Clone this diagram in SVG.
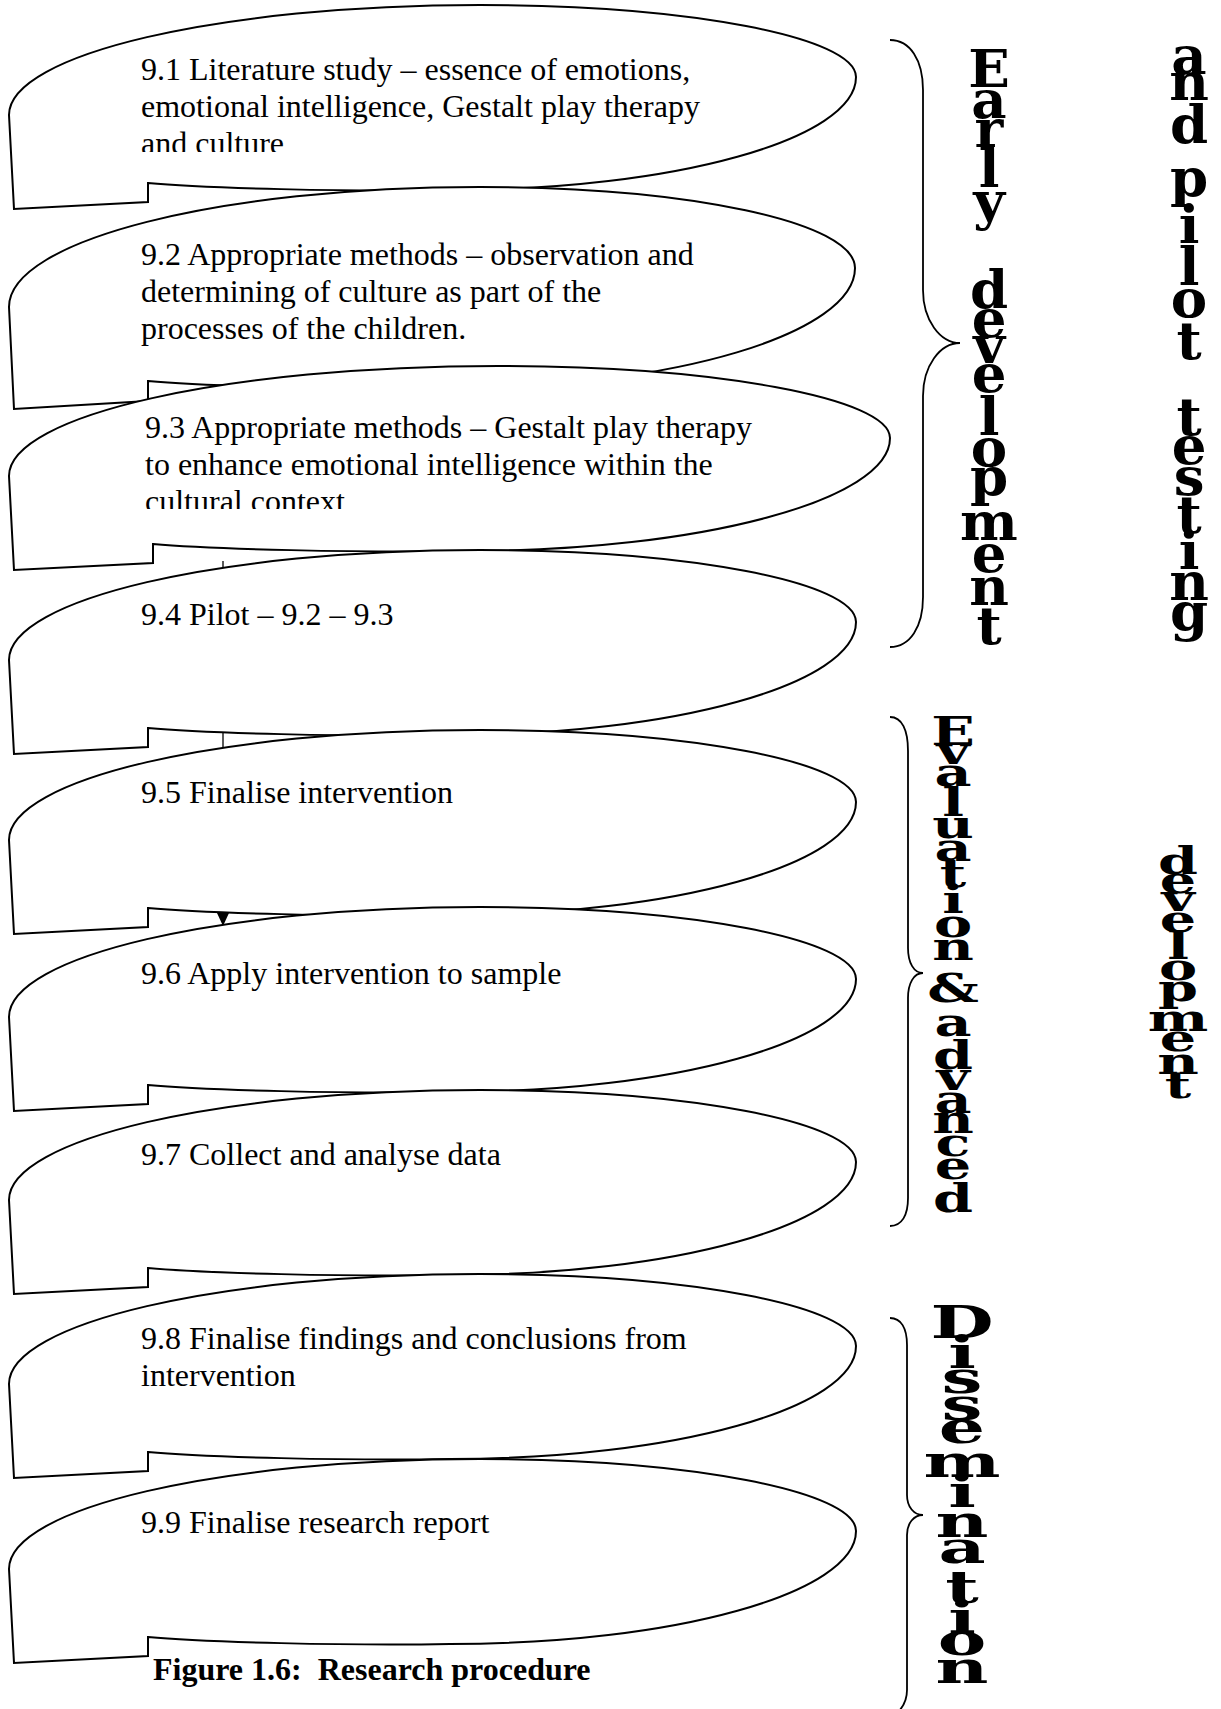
<svg xmlns="http://www.w3.org/2000/svg" xmlns:xlink="http://www.w3.org/1999/xlink" width="1221" height="1709" viewBox="0 0 1221 1709">
<style>
.shape{fill:#fff;stroke:#000;stroke-width:2;stroke-linejoin:miter}
.t{font-family:"Liberation Serif","Times New Roman",serif;font-size:32px;fill:#000}
.cap{font-family:"Liberation Serif","Times New Roman",serif;font-size:32px;font-weight:bold;fill:#000}
.brace{fill:none;stroke:#000;stroke-width:1.8}
.v{font-family:"DejaVu Serif",serif;font-weight:bold;font-size:52px;text-anchor:middle;fill:#000}
.conn{stroke:#000;stroke-width:1.3;fill:none}
</style>
<defs>
<path id="callout" d="M 9,110 C 9,49 220,0 480,0 C 688,0 856,32 856,72 C 856,134 675,185 450,185 C 350,187 200,183 148,178 L 148,197 L 14,204 Z"/>
<clipPath id="clip1"><rect x="0" y="0" width="900" height="152"/></clipPath>
<clipPath id="clip3"><rect x="0" y="366" width="900" height="143"/></clipPath>
</defs>
<rect width="1221" height="1709" fill="#fff"/>

<g id="node-9-1">
<use href="#callout" xlink:href="#callout" y="5" class="shape"/>
<g clip-path="url(#clip1)">
<text class="t" x="141" y="80">9.1 Literature study – essence of emotions,</text>
<text class="t" x="141" y="116.8">emotional intelligence, Gestalt play therapy</text>
<text class="t" x="141" y="153.6">and culture</text>
</g>
</g>

<g id="node-9-2">
<path class="shape" d="M 9,307 C 9,240 220,187 480,187 C 688,187 855,222 855,268 C 855,333 675,388 450,388 C 350,390 200,386 148,381 L 148,401 L 14,409 Z"/>
<text class="t" x="141" y="265">9.2 Appropriate methods – observation and</text>
<text class="t" x="141" y="301.8">determining of culture as part of the</text>
<text class="t" x="141" y="338.6">processes of the children.</text>
</g>

<g id="node-9-3">
<path class="shape" d="M 9,476 C 9,415 228,366 498,366 C 714,366 890,398 890,438 C 890,500 701,551 467,551 C 363,553 207,549 153,544 L 153,563 L 14,570 Z"/>
<g clip-path="url(#clip3)">
<text class="t" x="145" y="438">9.3 Appropriate methods – Gestalt play therapy</text>
<text class="t" x="145" y="474.8">to enhance emotional intelligence within the</text>
<text class="t" x="145" y="511.6">cultural context</text>
</g>
</g>

<g id="connectors">
<line class="conn" x1="223" y1="561" x2="223" y2="914"/>
<polygon points="217,913 229,913 223,926" fill="#000"/>
</g>

<g id="node-9-4">
<use href="#callout" xlink:href="#callout" y="550" class="shape"/>
<text class="t" x="141" y="625">9.4 Pilot – 9.2 – 9.3</text>
</g>
<g id="node-9-5">
<use href="#callout" xlink:href="#callout" y="730" class="shape"/>
<text class="t" x="141" y="803">9.5 Finalise intervention</text>
</g>
<g id="node-9-6">
<use href="#callout" xlink:href="#callout" y="907" class="shape"/>
<text class="t" x="141" y="984">9.6 Apply intervention to sample</text>
</g>
<g id="node-9-7">
<use href="#callout" xlink:href="#callout" y="1090" class="shape"/>
<text class="t" x="141" y="1165">9.7 Collect and analyse data</text>
</g>
<g id="node-9-8">
<use href="#callout" xlink:href="#callout" y="1274" class="shape"/>
<text class="t" x="141" y="1349">9.8 Finalise findings and conclusions from</text>
<text class="t" x="141" y="1385.8">intervention</text>
</g>
<g id="node-9-9">
<use href="#callout" xlink:href="#callout" y="1459" class="shape"/>
<text class="t" x="141" y="1533">9.9 Finalise research report</text>
</g>

<g id="caption">
<text class="cap" x="153" y="1680" xml:space="preserve">Figure 1.6:  Research procedure</text>
</g>

<g id="braces">
<path class="brace" d="M 890,40 C 910,40 923,60 923,90 L 923,290 C 923,320 940,343 960,343 C 940,343 923,366 923,396 L 923,597 C 923,627 910,647 890,647"/>
<path class="brace" d="M 890,717 C 902,717 908,730 908,751 L 908,948 C 908,963 914,973 923,973 C 914,973 908,983 908,998 L 908,1198 C 908,1215 902,1226 890,1226"/>
<path class="brace" d="M 890,1318 C 901,1318 907,1328 907,1345 L 907,1495 C 907,1507 914,1515 923,1515 C 914,1515 907,1523 907,1535 L 907,1690 C 907,1700 904,1706 898,1712"/>
</g>

<g id="label-early-development">
<text class="v" transform="translate(989,0) scale(1.05,1)"><tspan x="0" y="87">E</tspan><tspan x="0" y="118">a</tspan><tspan x="0" y="147">r</tspan><tspan x="0" y="187">l</tspan><tspan x="0" y="219">y</tspan><tspan x="0" y="308">d</tspan><tspan x="0" y="337">e</tspan><tspan x="0" y="363">v</tspan><tspan x="0" y="392">e</tspan><tspan x="0" y="435">l</tspan><tspan x="0" y="466">o</tspan><tspan x="0" y="495">p</tspan><tspan x="0" y="540">m</tspan><tspan x="0" y="572">e</tspan><tspan x="0" y="605">n</tspan><tspan x="0" y="644">t</tspan></text>
</g>

<g id="label-and-pilot-testing">
<text class="v" transform="translate(1189,0) scale(1.05,1)"><tspan x="0" y="74">a</tspan><tspan x="0" y="100">n</tspan><tspan x="0" y="143">d</tspan><tspan x="0" y="196">p</tspan><tspan x="0" y="243">i</tspan><tspan x="0" y="285">l</tspan><tspan x="0" y="317">o</tspan><tspan x="0" y="359">t</tspan><tspan x="0" y="435">t</tspan><tspan x="0" y="464">e</tspan><tspan x="0" y="495">s</tspan><tspan x="0" y="533">t</tspan><tspan x="0" y="569">i</tspan><tspan x="0" y="600">n</tspan><tspan x="0" y="630">g</tspan></text>
</g>

<g id="label-evaluation-advanced">
<text class="v" transform="translate(953,0) scale(1.1,0.75)"><tspan x="0" y="993.33">E</tspan><tspan x="0" y="1018.67">v</tspan><tspan x="0" y="1048">a</tspan><tspan x="0" y="1088">l</tspan><tspan x="0" y="1117.33">u</tspan><tspan x="0" y="1148">a</tspan><tspan x="0" y="1182.67">t</tspan><tspan x="0" y="1217.33">i</tspan><tspan x="0" y="1249.33">o</tspan><tspan x="0" y="1280">n</tspan><tspan x="0" y="1336">&amp;</tspan><tspan x="0" y="1381.33">a</tspan><tspan x="0" y="1425.33">d</tspan><tspan x="0" y="1453.33">v</tspan><tspan x="0" y="1484">a</tspan><tspan x="0" y="1510.67">n</tspan><tspan x="0" y="1541.33">c</tspan><tspan x="0" y="1572">e</tspan><tspan x="0" y="1616">d</tspan></text>
</g>

<g id="label-development">
<text class="v" transform="translate(1178,0) scale(1.1,0.7)"><tspan x="0" y="1248.57">d</tspan><tspan x="0" y="1275.71">e</tspan><tspan x="0" y="1301.43">v</tspan><tspan x="0" y="1331.43">e</tspan><tspan x="0" y="1370">l</tspan><tspan x="0" y="1400">o</tspan><tspan x="0" y="1430">p</tspan><tspan x="0" y="1472.86">m</tspan><tspan x="0" y="1501.43">e</tspan><tspan x="0" y="1534.29">n</tspan><tspan x="0" y="1568.57">t</tspan></text>
</g>

<g id="label-dissemination">
<text class="v" transform="translate(962,0) scale(1.4,0.85)"><tspan x="0" y="1574.12">D</tspan><tspan x="0" y="1609.41">i</tspan><tspan x="0" y="1638.82">s</tspan><tspan x="0" y="1670.59">s</tspan><tspan x="0" y="1697.65">e</tspan><tspan x="0" y="1737.65">m</tspan><tspan x="0" y="1772.94">i</tspan><tspan x="0" y="1808.24">n</tspan><tspan x="0" y="1838.82">a</tspan><tspan x="0" y="1885.88">t</tspan><tspan x="0" y="1921.18">i</tspan><tspan x="0" y="1947.06">o</tspan><tspan x="0" y="1980">n</tspan></text>
</g>
</svg>
